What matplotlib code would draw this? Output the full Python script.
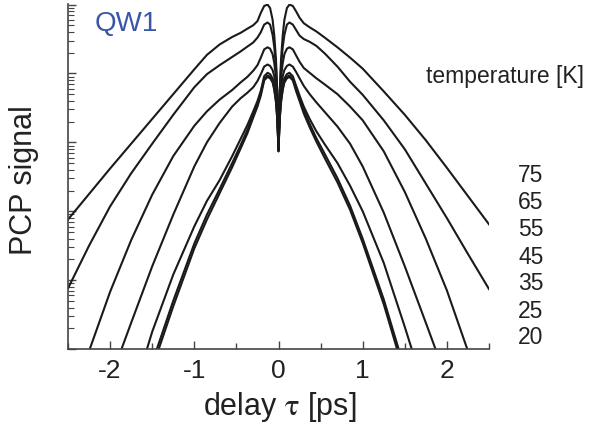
import numpy as np
import matplotlib
matplotlib.use('Agg')
import matplotlib.pyplot as plt
from matplotlib.ticker import LogLocator, NullFormatter, MultipleLocator

plt.rcParams['font.family'] = ['Liberation Sans', 'DejaVu Sans']
plt.rcParams['mathtext.fontset'] = 'stix'

# delay grid (ps) shared by all traces
delay = [-2.5, -2.25, -2.0, -1.75, -1.5, -1.25, -1.0,
         -0.85, -0.7, -0.55, -0.45, -0.37, -0.30, -0.25, -0.21, -0.17, -0.13,
         -0.10, -0.07, -0.05, -0.03, -0.015,
         0.0,
         0.015, 0.03, 0.05, 0.07, 0.10,
         0.13, 0.17, 0.21, 0.25, 0.30, 0.37, 0.45, 0.55, 0.7, 0.85,
         1.0, 1.25, 1.5, 1.75, 2.0, 2.25, 2.5]

temps = [75, 65, 55, 45, 35, 25, 20]

# log10 of the PCP signal
log_t75 = [-3.12, -2.75, -2.38, -2.02, -1.66, -1.30, -0.94,
           -0.73, -0.58, -0.47, -0.41, -0.35, -0.30, -0.24, -0.12, -0.02, 0.0,
           -0.05, -0.22, -0.45, -0.80, -1.25,
           -2.13,
           -1.25, -0.80, -0.45, -0.22, -0.05,
           0.0, -0.02, -0.10, -0.19, -0.27, -0.33, -0.39, -0.48, -0.62, -0.77,
           -0.93, -1.26, -1.60, -1.97, -2.37, -2.78, -3.19]
log_t65 = [-4.12, -3.50, -2.93, -2.45, -2.02, -1.60, -1.20,
           -1.01, -0.88, -0.76, -0.68, -0.61, -0.55, -0.48, -0.40, -0.29, -0.26,
           -0.29, -0.44, -0.62, -0.90, -1.30,
           -2.13,
           -1.30, -0.90, -0.62, -0.44, -0.29,
           -0.26, -0.29, -0.37, -0.45, -0.50, -0.54, -0.60, -0.71, -0.90, -1.12,
           -1.31, -1.68, -2.10, -2.60, -3.10, -3.62, -4.13]
log_t55 = [-5.9, -5.03, -4.17, -3.42, -2.76, -2.20, -1.76,
           -1.55, -1.38, -1.24, -1.13, -1.05, -0.96, -0.88, -0.77, -0.65, -0.62,
           -0.64, -0.72, -0.85, -1.05, -1.38,
           -2.12,
           -1.38, -1.05, -0.85, -0.72, -0.64,
           -0.62, -0.65, -0.74, -0.83, -0.92, -0.99, -1.07, -1.16, -1.30, -1.48,
           -1.68, -2.13, -2.72, -3.40, -4.15, -5.03, -5.9]
log_t45 = [-7.0, -6.2, -5.45, -4.62, -3.80, -3.05, -2.35,
           -2.00, -1.72, -1.48, -1.36, -1.28, -1.20, -1.11, -1.01, -0.90, -0.87,
           -0.89, -0.95, -1.04, -1.20, -1.48,
           -2.12,
           -1.48, -1.20, -1.04, -0.95, -0.89,
           -0.87, -0.90, -0.98, -1.07, -1.18, -1.30, -1.42, -1.56, -1.77, -2.02,
           -2.35, -3.02, -3.80, -4.62, -5.45, -6.3, -7.2]
log_t35 = [-8.5, -7.6, -6.7, -5.75, -4.75, -3.92, -3.22,
           -2.85, -2.55, -2.20, -1.95, -1.75, -1.55, -1.40, -1.25, -1.04, -0.99,
           -1.01, -1.07, -1.17, -1.34, -1.60,
           -2.10,
           -1.60, -1.34, -1.17, -1.07, -1.01,
           -0.99, -1.04, -1.18, -1.32, -1.48, -1.66, -1.84, -2.03, -2.30, -2.63,
           -3.00, -3.75, -4.68, -5.65, -6.6, -7.6, -8.5]
log_t25 = [-9.0, -8.0, -7.1, -6.2, -5.20, -4.30, -3.47,
           -3.05, -2.68, -2.30, -2.04, -1.82, -1.60, -1.45, -1.29, -1.08, -1.03,
           -1.05, -1.11, -1.22, -1.40, -1.64,
           -2.10,
           -1.64, -1.40, -1.22, -1.11, -1.05,
           -1.03, -1.08, -1.22, -1.36, -1.53, -1.73, -1.94, -2.17, -2.52, -2.92,
           -3.40, -4.28, -5.30, -6.4, -7.5, -8.5, -9.5]
log_t20 = [-9.6, -8.6, -7.6, -6.4, -5.28, -4.38, -3.54,
           -3.12, -2.74, -2.36, -2.09, -1.87, -1.64, -1.48, -1.32, -1.10, -1.05,
           -1.07, -1.13, -1.24, -1.42, -1.66,
           -2.10,
           -1.66, -1.42, -1.24, -1.13, -1.07,
           -1.05, -1.10, -1.26, -1.40, -1.58, -1.78, -1.99, -2.23, -2.58, -2.98,
           -3.46, -4.35, -5.38, -6.5, -7.6, -8.6, -9.6]

traces = [log_t75, log_t65, log_t55, log_t45, log_t35, log_t25, log_t20]

fig = plt.figure(figsize=(5.89, 4.29), dpi=100)
ax = fig.add_axes([68 / 589, 1 - 349 / 429, (489 - 68) / 589, (349 - 4) / 429])

x = np.array(delay)
for tr in traces:
    ax.plot(x, 10.0 ** np.array(tr), color='#1a1a1a', lw=1.5,
            solid_joinstyle='round')

ax.set_yscale('log')
ax.set_xlim(-2.5, 2.5)
ax.set_ylim(1e-5, 1.02)

ax.spines['top'].set_visible(False)
ax.spines['right'].set_visible(False)
for s in ('left', 'bottom'):
    ax.spines[s].set_linewidth(1.2)
    ax.spines[s].set_color('#444444')

ax.xaxis.set_major_locator(MultipleLocator(1))
ax.xaxis.set_minor_locator(MultipleLocator(0.5))
ax.yaxis.set_major_locator(LogLocator(base=10, numticks=10))
ax.yaxis.set_minor_locator(LogLocator(base=10, subs=np.arange(2, 10), numticks=10))
ax.yaxis.set_major_formatter(NullFormatter())
ax.yaxis.set_minor_formatter(NullFormatter())

ax.tick_params(axis='x', which='major', direction='in', length=6, width=1.0,
               labelsize=19, pad=7, color='#444444', labelcolor='#222222')
ax.tick_params(axis='x', which='minor', direction='in', length=4, width=1.0,
               color='#444444')
ax.tick_params(axis='y', which='major', direction='in', length=6, width=1.0,
               color='#444444')
ax.tick_params(axis='y', which='minor', direction='in', length=4, width=0.8,
               color='#444444')
ax.set_xticks([-2, -1, 0, 1, 2])
ax.set_xticklabels(['-2', '-1', '0', '1', '2'])

fig.text(280 / 589, 1 - 415 / 429, r'delay $\mathrm{\tau}$ [ps]', fontsize=22,
         ha='center', va='baseline', color='#222222')
fig.text(24 / 589, 1 - 180 / 429, 'PCP signal', fontsize=22, rotation=90,
         ha='center', va='center', color='#222222')

fig.text(95 / 589, 1 - 24 / 429, 'QW1', fontsize=20, color='#3a56a6',
         va='center', ha='left')
fig.text(584 / 589, 1 - 76 / 429, 'temperature [K]', fontsize=16.5,
         ha='right', va='center', color='#222222')
label_y = [175, 202, 229, 257, 284, 311, 338]
for t, yy in zip(temps, label_y):
    fig.text(531 / 589, 1 - yy / 429, str(t), fontsize=16.5, ha='center',
             va='center', color='#222222')

fig.savefig('out.png', dpi=100)
plt.close()
